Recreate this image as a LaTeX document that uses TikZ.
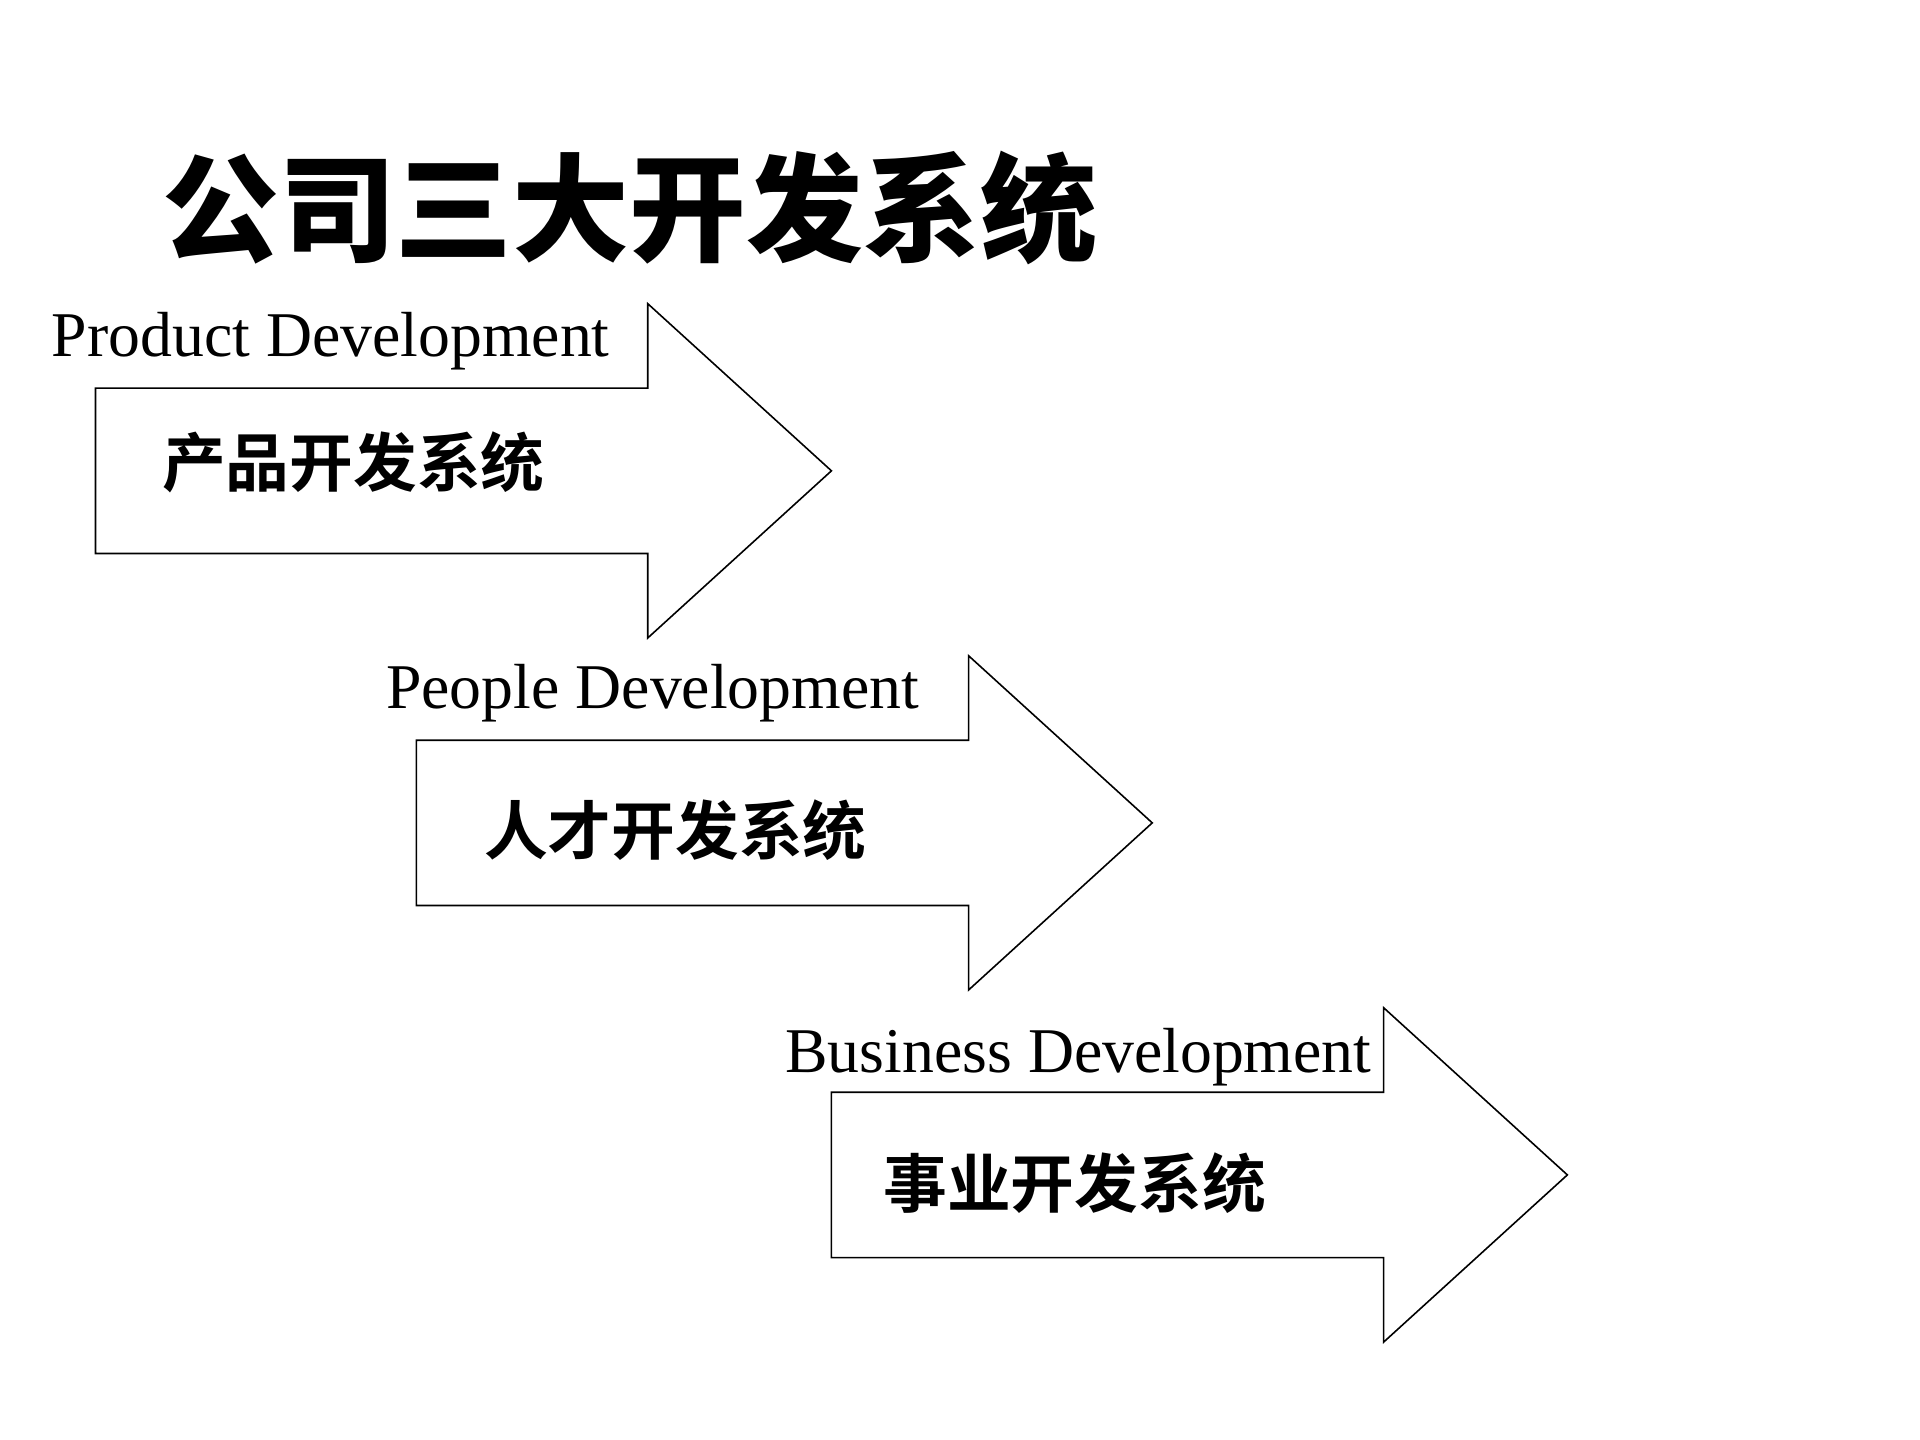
\documentclass[tikz,border=0pt]{standalone}
\usepackage{fontspec}
\setmainfont{Liberation Serif}
\newfontfamily\cjktitle{Noto Sans CJK SC Black}
\newfontfamily\cjk{Noto Sans CJK SC Bold}

\newcommand{\devarrow}[3]{%
  \draw[arrowline] (#2,#3) coordinate (#1) ++(0,-67.5) -- ++(451,0) -- ++(0,-69)
    -- ++(150,136.5) coordinate (#1tip) -- ++(-150,136.5) -- ++(0,-69) -- ++(-451,0) -- cycle;}

\begin{document}
\begin{tikzpicture}[x=0.0162cm,y=-0.0162cm,
    arrowline/.style={draw=black,line width=0.6pt,line join=miter},
    entext/.style={inner sep=0pt,anchor=base west,font=\fontsize{24}{28}\selectfont},
    cntext/.style={inner sep=0pt,anchor=west,font=\cjk\fontsize{24}{28}\selectfont}]
    \useasboundingbox[fill=white] (0,0) rectangle (1568,1176);
    \node[inner sep=0pt,anchor=west,font=\cjktitle\fontsize{44}{50}\selectfont] (title) at (132,170) {公司三大开发系统};

    \devarrow{prod}{78}{384.5}
    \devarrow{people}{340}{672}
    \devarrow{biz}{679}{959.5}

    \node[entext] (prodEn) at (42,291) {Product Development};
    \node[cntext] (prodCn) at (132,378) {产品开发系统};
    \node[entext] (peopleEn) at (315,579) {People Development};
    \node[cntext] (peopleCn) at (395,678) {人才开发系统};
    \node[entext] (bizEn) at (641,876) {Business Development};
    \node[cntext] (bizCn) at (721,966) {事业开发系统};
\end{tikzpicture}
\end{document}
